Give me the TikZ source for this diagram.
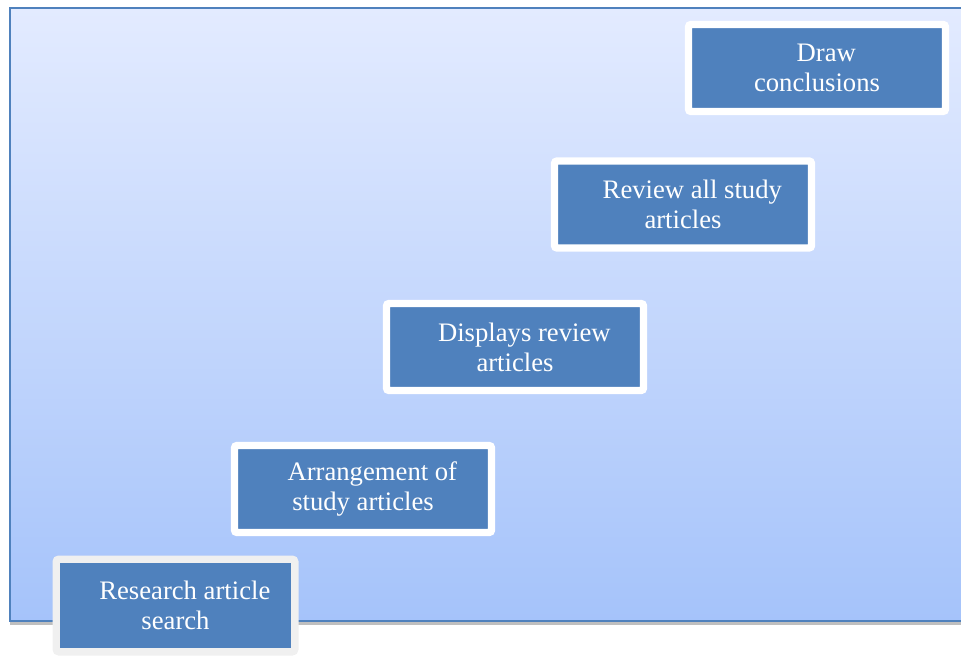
\documentclass[tikz,border=0pt]{standalone}
\usepackage{fontspec}
\setmainfont{Liberation Serif}
\usepackage{tikz}
\usetikzlibrary{positioning,shadows}
\definecolor{stepblue}{HTML}{4F81BD}
\definecolor{panetop}{HTML}{E3EBFF}
\definecolor{panebot}{HTML}{A5C3FA}
\tikzset{
  stepbox/.style={draw=white, line width=5.6pt, fill=stepblue, rounded corners=2pt,
    inner sep=0pt, minimum width=192.75pt, minimum height=65.25pt,
    text=white, align=center, font=\fontsize{20}{22.5}\selectfont,
    drop shadow={shadow xshift=1.5pt, shadow yshift=-2pt, fill=black, opacity=0.3}},
}

\begin{document}
\begin{tikzpicture}[x=0.75pt, y=-0.75pt]
\clip (0,0) rectangle (961,656);
% background pane
\draw[draw=stepblue, line width=1.8pt, top color=panetop, bottom color=panebot,
  drop shadow={shadow xshift=0pt, shadow yshift=-3pt, fill=black, opacity=0.25}]
  (10,8) rectangle (990,621);
% steps
\node[stepbox, draw=black!6, minimum width=178.9pt, minimum height=69.4pt] (search) at (175.5,605.5) {\hspace*{14pt}Research article\\search};
\node[stepbox] (arrange) at (363,489) {\hspace*{14pt}Arrangement of\\study articles};
\node[stepbox] (display) at (515,347) {\hspace*{14pt}Displays review\\articles};
\node[stepbox] (review) at (683,204.5) {\hspace*{14pt}Review all study\\articles};
\node[stepbox] (conclude) at (817,68) {\hspace*{14pt}Draw\\conclusions};
\end{tikzpicture}
\end{document}
